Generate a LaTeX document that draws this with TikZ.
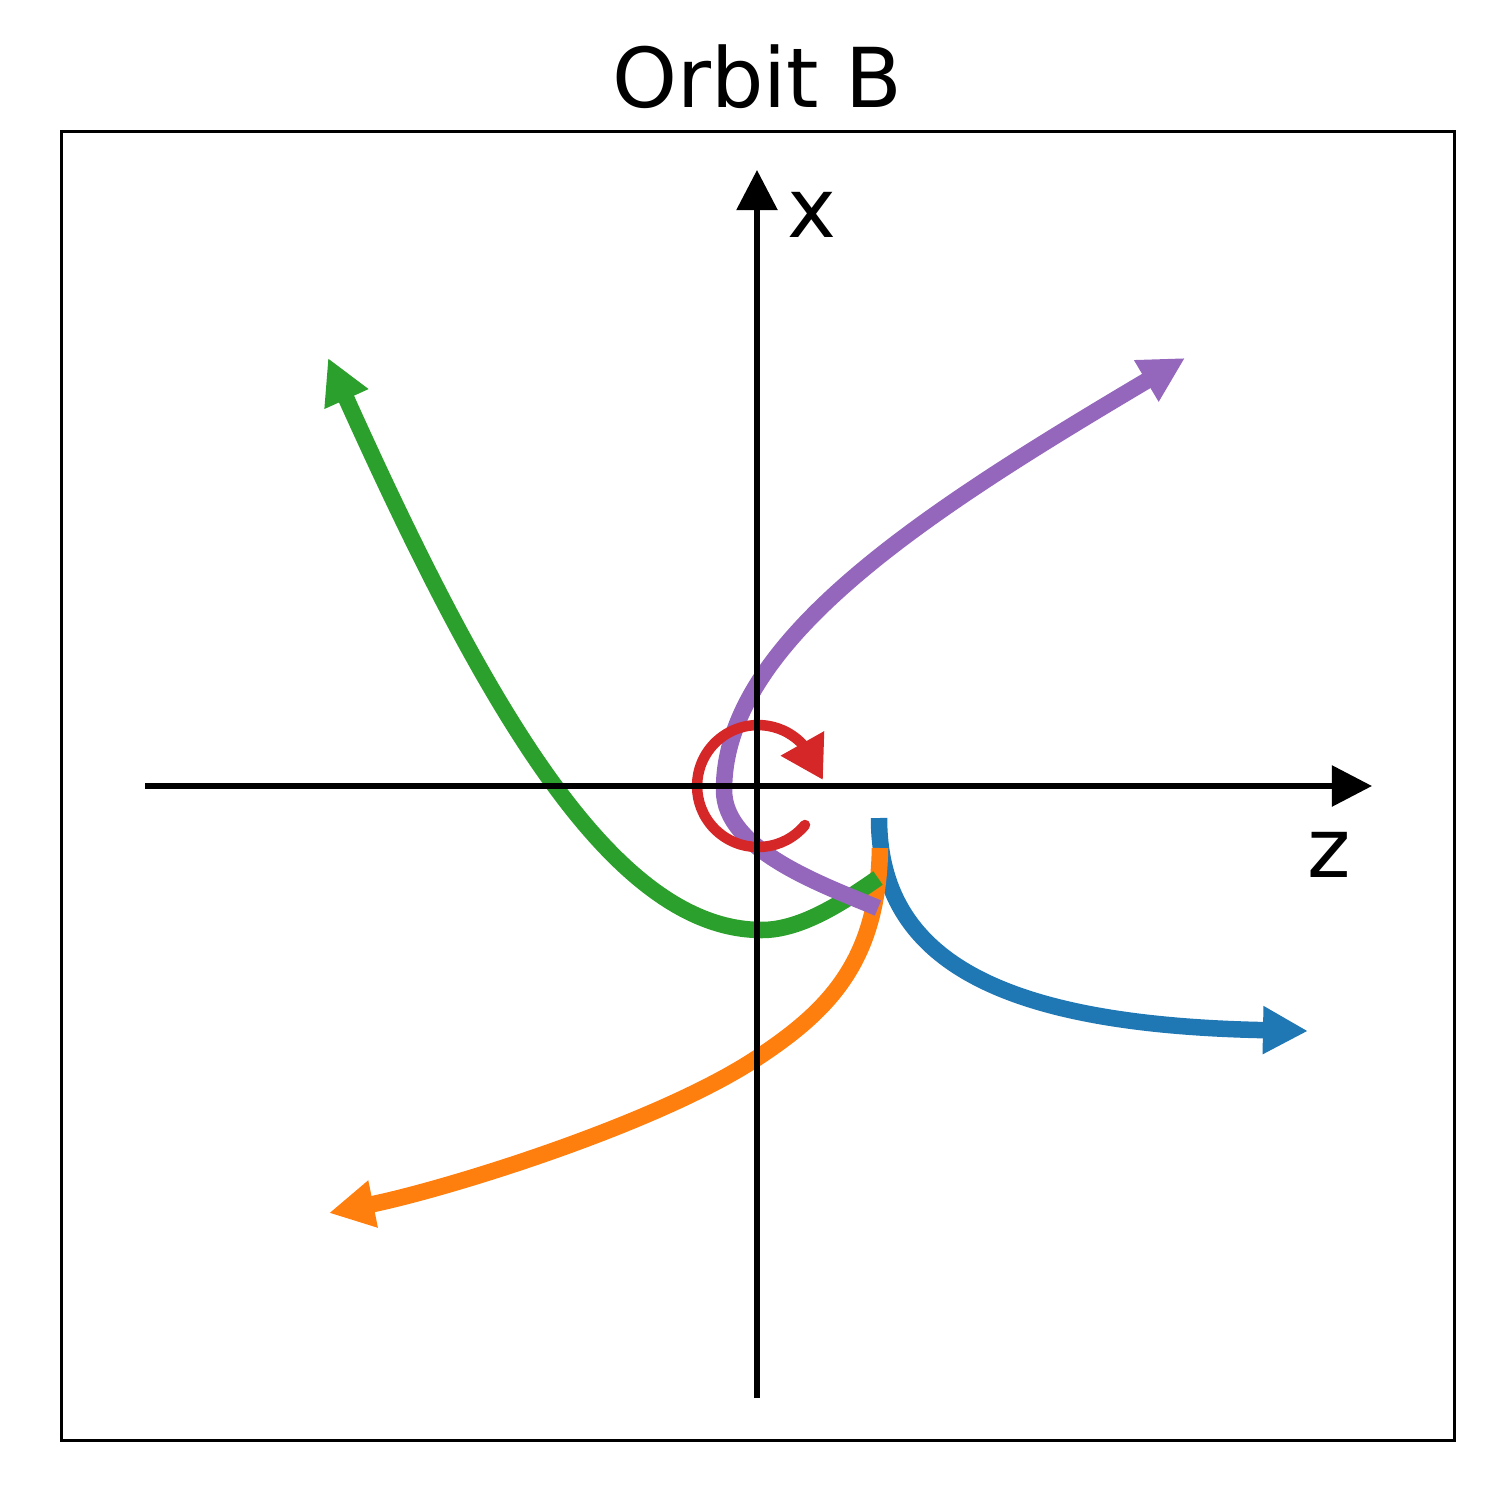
\documentclass[tikz,border=0pt]{standalone}
\usepackage{fontspec}
\setmainfont{DejaVu Sans}
\usetikzlibrary{arrows.meta}
\definecolor{tblue}{HTML}{1F77B4}
\definecolor{torange}{HTML}{FF7F0E}
\definecolor{tgreen}{HTML}{2CA02C}
\definecolor{tred}{HTML}{D62728}
\definecolor{tpurple}{HTML}{9467BD}
\begin{document}
\begin{tikzpicture}[x=0.01cm,y=-0.01cm,
  orbit/.style={line width=0.165cm, -{Triangle[length=0.45cm,width=0.45cm]}},
  axisline/.style={line width=0.055cm, -{Triangle[length=0.40cm,width=0.40cm]}},
  lab/.style={font=\fontsize{23.5}{28}\selectfont, anchor=base, inner sep=0pt},
  spin/.style={tred, line width=0.105cm, line cap=round, -{Triangle[length=0.42cm,width=0.47cm]}}]
\useasboundingbox (0,0) rectangle (1500,1500);
\node[lab] (title) at (757,108) {Orbit B};
\draw[line width=0.03cm] (61,132) rectangle (1454,1440);
% endpoints
\coordinate (b0) at (879,818);  \coordinate (bT) at (1308,1031);
\coordinate (o0) at (880,848);  \coordinate (oM) at (757,1058); \coordinate (oT) at (329,1213);
\coordinate (g0) at (878,878);  \coordinate (gM) at (762,930); \coordinate (gT) at (328,358);
\coordinate (p0) at (878,908);  \coordinate (pV) at (724,790); \coordinate (pT) at (1185,358);
\coordinate (r0) at (805,825);  \coordinate (rT) at (823,780);
% blue
\draw[orbit, tblue] (b0) .. controls (879,960) and (1000,1025) .. (bT);
% orange
\draw[orbit, torange] (o0) .. controls (878,960) and (830,1010) .. (oM)
   .. controls (657,1124) and (447,1189) .. (oT);
% green
\draw[orbit, tgreen] (g0) .. controls (845,901) and (802,930) .. (gM)
   .. controls (612,930) and (484,704) .. (gT);
% purple
\draw[orbit, tpurple] (p0) .. controls (823,885) and (724,850) .. (pV)
   .. controls (724,640) and (927,511) .. (pT);
% red spin
\draw[spin] (r0) arc[start angle=39.7, end angle=318, radius=61] -- (rT);
% axes
\coordinate (zL) at (145,786); \coordinate (zR) at (1372,786);
\coordinate (xB) at (757,1398); \coordinate (xT) at (757,170);
\draw[axisline] (zL) -- (zR);
\draw[axisline] (xB) -- (xT);
\node[lab] (xlab) at (812,238) {x};
\node[lab] (zlab) at (1329,877) {z};
\end{tikzpicture}
\end{document}
